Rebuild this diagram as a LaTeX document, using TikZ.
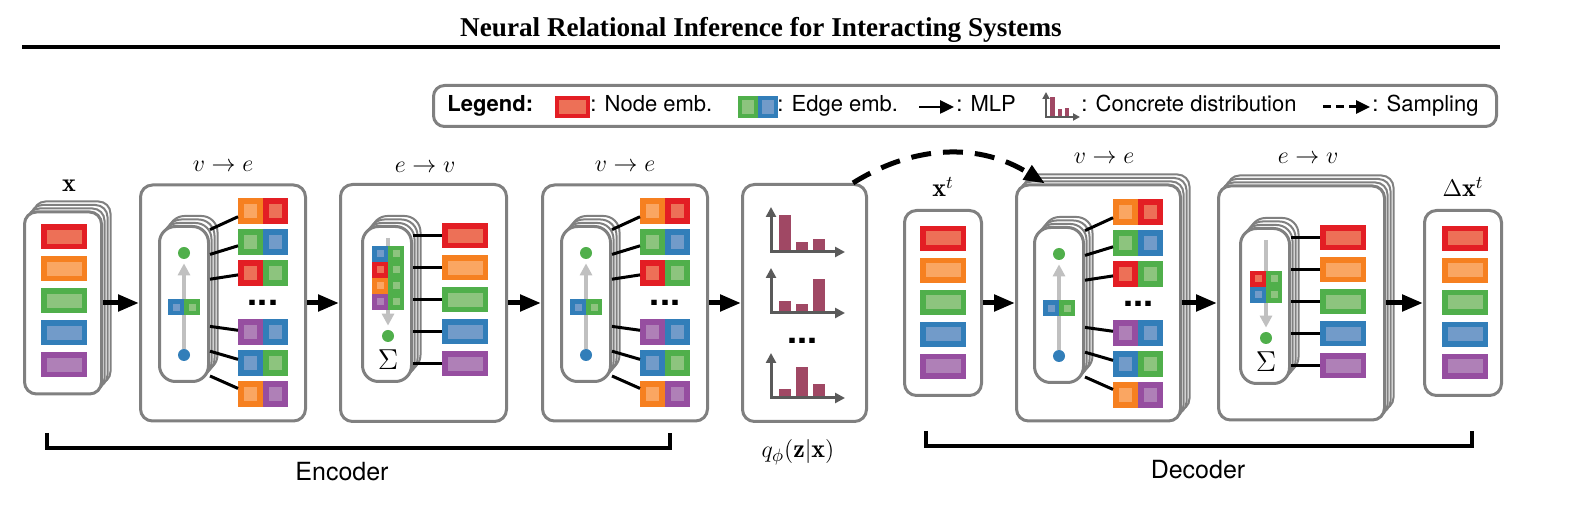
\documentclass[tikz,border=0pt]{standalone}
\usepackage{fontspec}
\setsansfont{TeX Gyre Heros}
\newfontfamily\ttlfont{Liberation Serif}
\usetikzlibrary{arrows.meta,positioning,calc,shadows}
\definecolor{redD}{RGB}{227,30,36}  \definecolor{redL}{RGB}{237,112,87}
\definecolor{oraD}{RGB}{246,128,32} \definecolor{oraL}{RGB}{250,166,98}
\definecolor{grnD}{RGB}{80,175,75}  \definecolor{grnL}{RGB}{141,196,126}
\definecolor{bluD}{RGB}{50,126,185} \definecolor{bluL}{RGB}{114,155,201}
\definecolor{purD}{RGB}{150,78,160} \definecolor{purL}{RGB}{175,128,183}
\definecolor{bord}{RGB}{128,128,128}
\definecolor{lgray}{RGB}{192,192,192}
\definecolor{axgray}{RGB}{90,90,90}
\definecolor{barc}{RGB}{160,72,100}
\tikzset{pan/.style = {draw=bord, line width=1.5pt, fill=white, rounded corners=6pt, inner sep=0pt},
         sh/.style  = {general shadow={shadow xshift=#1*1.5pt, shadow yshift=#1*1.75pt, draw=bord, fill=white, line width=1pt}},
         stk/.style = {sh=3, sh=2, sh=1},
         inr/.style = {pan, stk, rounded corners=8pt, minimum width=24.5pt, minimum height=77.5pt},
         ne/.style  = {draw=#1D, fill=#1L, line width=2.75pt, minimum width=20.25pt, minimum height=9.75pt, inner sep=0pt},
         ee/.style  = {draw=#1D, fill=#1L, line width=3pt, minimum width=9.5pt, minimum height=10pt, inner sep=0pt},
         se/.style  = {draw=#1D, fill=#1L, line width=2.25pt, minimum size=5.75pt, inner sep=0pt},
         vtx/.style = {circle, fill=#1D, minimum size=6pt, inner sep=0pt},
         ln/.style  = {line width=1.5pt},
         mlp/.style = {line width=2.5pt, -{Triangle[length=10.5pt, width=8pt]}},
         samp/.style = {mlp, dash pattern=on 10pt off 6pt},
         garr/.style = {draw=lgray, line width=2pt, shorten >=2pt, -{Triangle[length=6pt, width=6pt]}},
         axs/.style = {draw=axgray, line width=1.5pt, {Triangle[length=5pt, width=5pt]}-{Triangle[length=5pt, width=5pt]}},
         dts/.style = {font=\sffamily\bfseries\fontsize{18}{18}\selectfont, inner sep=0pt},
         sig/.style = {font=\fontsize{14}{14}\selectfont, inner sep=0pt},
         lab/.style = {font=\fontsize{11.5}{13}\selectfont, inner sep=0pt},
         big/.style = {font=\fontsize{13}{15}\selectfont, inner sep=0pt},
         txt/.style = {font=\sffamily\fontsize{12.5}{15}\selectfont, inner sep=0pt},
         leg/.style = {font=\sffamily\fontsize{11}{13}\selectfont, anchor=base west, inner sep=0pt},
         ttl/.style = {font=\ttlfont\bfseries\fontsize{13.6}{16}\selectfont, anchor=base, inner sep=0pt}}
% v->e block, drawn in the frame of the first encoder block
\newcommand{\vtoe}{%
  \node[inr] (s) at (184,304) {};
  \node[vtx=grn] (vt) at (184,253) {};
  \node[vtx=blu] (vs) at (184,355) {};
  \draw[garr] (vs) -- (vt);
  \node[se=blu] (m1) at (176,307.5) {};
  \node[se=grn] (m2) at (192,307.5) {};
  \foreach \yy/\lc/\rc [count=\i] in {211/ora/red, 242/grn/blu, 273/red/grn, 332/pur/blu, 363/blu/grn, 394/ora/pur} {
    \node[ee=\lc] (p\i) at (250.5,\yy) {};
    \node[ee=\rc, right=0pt of p\i] (q\i) {};
    \draw[ln] ($(s.east)!.8!(s.east |- p\i)$) -- (p\i);
  }
  \node[dts] (dd) at (263,303) {...};
}
% e->v block, drawn in the frame of the second encoder block
\newcommand{\etov}[1]{%
  \node[inr] (s) at (387,304) {};
  \coordinate (t) at (388,238);
  \node[vtx=grn] (v) at (388,336) {};
  \draw[garr] (t) -- (v);
  \foreach \yy/\lc/\rc in {#1} {
    \node[se=\lc] (l\yy) at (380,\yy) {};
    \node[se=\rc] (r\yy) at (396,\yy) {};
  }
  \node[sig] (sg) at (388,360) {$\Sigma$};
  \foreach \col [count=\i] in {red,ora,grn,blu,pur} {
    \node[ne=\col] (n\i) at (465,204+32*\i) {};
    \draw[ln] (s.east |- n\i) -- (n\i);
  }
}
\newcommand{\nodecol}[2]{%
  \foreach \col [count=\i] in {red,ora,grn,blu,pur}
    \node[ne=\col] (n\i) at (#1,#2+32*\i) {};
}

\begin{document}
\begin{tikzpicture}[x=0.5pt, y=-0.5pt]
  \useasboundingbox (0,0) rectangle (1572,506);
  \node[ttl] (ttl) at (761,37) {Neural Relational Inference for Interacting Systems};
  \draw[line width=1.75pt] (22,47) -- (1500,47);

  \node[pan, rounded corners=5.5pt, minimum width=531.5pt, minimum height=20.5pt] (lg) at (965,106) {};
  \node[leg, font=\sffamily\bfseries\fontsize{11}{13}\selectfont] (lg0) at (447,112) {Legend:};
  \node[ne=red, line width=2pt, minimum width=15.5pt, minimum height=9pt] (li1) at (572,107) {};
  \node[leg] (lt1) at (590,112) {: Node emb.};
  \node[ne=grn, line width=2pt, minimum width=8pt, minimum height=9pt] (li2) at (748,107) {};
  \node[ne=blu, line width=2pt, minimum width=8pt, minimum height=9pt, right=0pt of li2] (li3) {};
  \node[leg] (lt2) at (777,112) {: Edge emb.};
  \draw[mlp, line width=1.25pt, -{Triangle[length=7pt, width=6.5pt]}] (919,107) -- (954,107);
  \node[leg] (lt3) at (956,112) {: MLP};
  \fill[barc] (1050,117) rectangle (1055,97);
  \fill[barc] (1058,117) rectangle (1062,109);
  \fill[barc] (1065,117) rectangle (1069,108);
  \draw[axs, line width=1pt, {Triangle[length=3.5pt, width=3.5pt]}-{Triangle[length=3.5pt, width=3.5pt]}] (1046,92) |- (1080,117);
  \node[leg] (lt4) at (1081,112) {: Concrete distribution};
  \draw[mlp, line width=1.5pt, dash pattern=on 4pt off 2.5pt, -{Triangle[length=7pt, width=6.5pt]}] (1323,107) -- (1370,107);
  \node[leg] (lt5) at (1372,112) {: Sampling};

  \node[pan, stk, minimum width=38.5pt, minimum height=91pt] (x) at (63,303) {};
  \node[pan, minimum width=82.5pt, minimum height=118pt] (e1) at (223,303) {};
  \node[pan, minimum width=83pt, minimum height=118.5pt] (e2) at (423.5,303) {};
  \node[pan, minimum width=82.5pt, minimum height=118pt] (e3) at (625,303) {};
  \node[pan, minimum width=62pt, minimum height=118.5pt] (q) at (804.5,303) {};
  \node[pan, minimum width=38.5pt, minimum height=92.5pt] (xt) at (943,303) {};
  \node[pan, stk, minimum width=82pt, minimum height=118pt] (d1) at (1098.5,303) {};
  \node[pan, stk, minimum width=83pt, minimum height=117pt] (d2) at (1301.5,303) {};
  \node[pan, minimum width=38.5pt, minimum height=92.5pt] (dx) at (1463,303) {};

  \begin{scope}[name prefix=x-] \nodecol{64}{205} \end{scope}
  \begin{scope}[name prefix=b-] \vtoe \end{scope}
  \begin{scope}[name prefix=c-] \etov{254/blu/grn, 270/red/grn, 286/ora/grn, 302/pur/grn} \end{scope}
  \begin{scope}[shift={(402,0)}, name prefix=d-] \vtoe \end{scope}
  \foreach \o/\ta/\tb/\tc in {252/215/242/239, 313/301/304/279, 398/389/367/384} {
    \fill[barc] (779,\o) rectangle (791,\ta);
    \fill[barc] (796,\o) rectangle (808,\tb);
    \fill[barc] (813,\o) rectangle (825,\tc);
    \draw[axs] (771,\o-45) |- (845,\o);
  }
  \node[dts] (qd) at (802,341) {...};
  \begin{scope}[name prefix=t-] \nodecol{943}{206.5} \end{scope}
  \begin{scope}[shift={(875,1)}, name prefix=g-] \vtoe \end{scope}
  \begin{scope}[shift={(878,2)}, name prefix=h-] \etov{277/red/grn, 293/blu/grn} \end{scope}
  \begin{scope}[name prefix=y-] \nodecol{1465}{206.5} \end{scope}

  \node[big] (lx) at (69,186) {$\mathbf{x}$};
  \node[lab] (l1) at (223,166) {$v\to e$};
  \node[lab] (l2) at (425,167) {$e\to v$};
  \node[lab] (l3) at (625,166) {$v\to e$};
  \node[big] (lxt) at (943,187) {$\mathbf{x}^t$};
  \node[lab] (l4) at (1104,158) {$v\to e$};
  \node[lab] (l5) at (1308,158) {$e\to v$};
  \node[big] (ldx) at (1463,187) {$\Delta\mathbf{x}^t$};
  \node[big] (lq) at (798,452) {$q_\phi(\mathbf{z}|\mathbf{x})$};

  \draw[mlp] (x) -- (e1);
  \draw[mlp] (e1) -- (e2);
  \draw[mlp] (e2) -- (e3);
  \draw[mlp] (e3) -- (q);
  \draw[mlp] (xt) -- (d1);
  \draw[mlp] (d1) -- (d2);
  \draw[mlp] (d2) -- (dx);
  \draw[samp] ([xshift=-7.5pt]q.north east) to[out=32, in=148] ([xshift=15pt]d1.north west);

  \draw[line width=1.75pt] (47,433) |- (670,448) -- (670,433);
  \draw[line width=1.75pt] (926,431) |- (1472,446) -- (1472,431);
  \node[txt] (enc) at (342,472) {Encoder};
  \node[txt] (dec) at (1198,470) {Decoder};
\end{tikzpicture}
\end{document}
